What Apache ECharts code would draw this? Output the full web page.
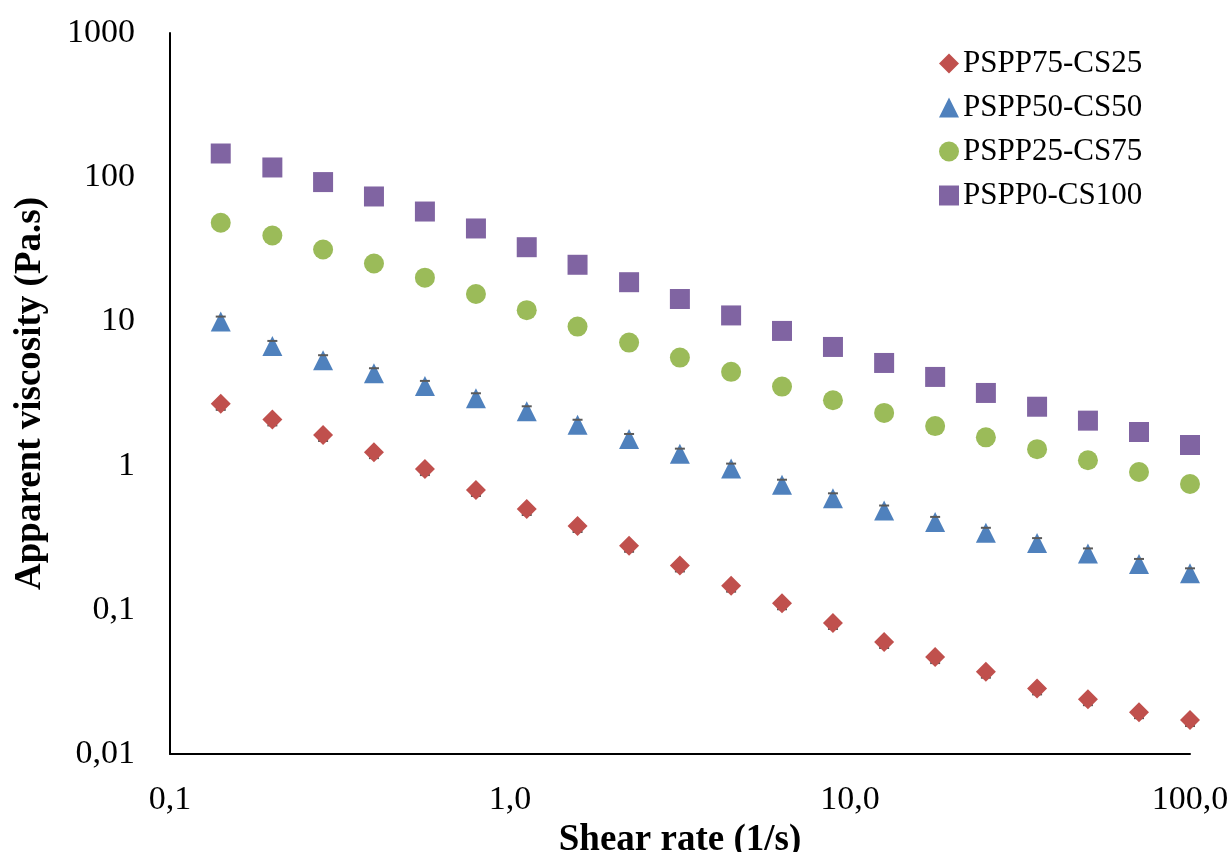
<!DOCTYPE html>
<html>
<head>
<meta charset="utf-8">
<script src="https://cdn.jsdelivr.net/npm/echarts@6/dist/echarts.min.js"></script>
<style>
  html, body { margin: 0; padding: 0; background: #fff; }
  #chart { width: 1231px; height: 852px; }
</style>
</head>
<body>
<div id="chart"></div>
<script>
// Shear rate (1/s)
const shearRate = [0.141, 0.2, 0.282, 0.398, 0.562, 0.794, 1.12, 1.58, 2.24, 3.16,
                   4.47, 6.31, 8.91, 12.6, 17.8, 25.1, 35.5, 50.1, 70.8, 100];

// Apparent viscosity (Pa.s) per blend
const pspp75cs25 = [2.68, 2.09, 1.63, 1.24, 0.946, 0.677, 0.500, 0.381, 0.278, 0.203,
                    0.147, 0.111, 0.081, 0.0598, 0.0470, 0.0372, 0.0285, 0.0240, 0.0195, 0.0172];
const pspp50cs50 = [9.97, 6.76, 5.38, 4.37, 3.57, 2.93, 2.38, 1.92, 1.53, 1.21,
                    0.953, 0.737, 0.593, 0.488, 0.407, 0.342, 0.290, 0.246, 0.208, 0.179];
const pspp25cs75 = [48.3, 39.4, 31.5, 25.2, 20.1, 15.5, 11.97, 9.20, 7.13, 5.61,
                    4.47, 3.53, 2.84, 2.32, 1.88, 1.57, 1.30, 1.09, 0.903, 0.745];
const pspp0cs100 = [146, 116.8, 92.5, 73.5, 57.8, 44.1, 32.7, 24.7, 18.7, 14.3,
                    11.0, 8.59, 6.65, 5.15, 4.12, 3.19, 2.56, 2.05, 1.71, 1.39];

const seriesNames = ['PSPP75-CS25', 'PSPP50-CS50', 'PSPP25-CS75', 'PSPP0-CS100'];

// Tick labels (decimal comma)
const xTickLabels = { '-1': '0,1', '0': '1,0', '1': '10,0', '2': '100,0' };
const yTickLabels = { '-2': '0,01', '-1': '0,1', '0': '1', '1': '10', '2': '100', '3': '1000' };

const FONT = '"Liberation Serif", "Times New Roman", serif';

function pairs(ys) {
  return shearRate.map((x, i) => [x, ys[i]]);
}
function decade(v) {
  return String(Math.round(Math.log10(v)));
}

// small error-bar caps that peek out around the markers
function caps(ys, offsetY, width, z) {
  return {
    type: 'scatter', silent: true, z: z,
    symbol: 'rect', symbolSize: [width, 2], symbolOffset: [0, offsetY],
    itemStyle: { color: '#5a5a5a', opacity: 1 },
    data: pairs(ys)
  };
}

const chart = echarts.init(document.getElementById('chart'), null, { renderer: 'canvas' });

chart.setOption({
  animation: false,
  backgroundColor: '#ffffff',
  grid: { left: 170, top: 33, right: 41, bottom: 98, containLabel: false, outerBoundsMode: 'none' },
  legend: {
    orient: 'vertical',
    left: 934,
    top: 43,
    itemWidth: 20,
    itemHeight: 20,
    itemGap: 13,
    data: seriesNames,
    textStyle: { fontFamily: FONT, fontSize: 31, color: '#000', lineHeight: 31, padding: [0, 0, 0, -1] }
  },
  xAxis: {
    type: 'log',
    logBase: 10,
    min: 0.1,
    max: 100,
    name: 'Shear rate (1/s)',
    nameLocation: 'middle',
    nameGap: 58,
    nameTextStyle: { fontFamily: FONT, fontSize: 37, fontWeight: 'bold', color: '#000' },
    axisLine: { lineStyle: { color: '#000', width: 2 } },
    axisTick: { show: false },
    splitLine: { show: false },
    axisLabel: {
      fontFamily: FONT, fontSize: 34, color: '#000', margin: 29,
      formatter: v => xTickLabels[decade(v)] || ''
    }
  },
  yAxis: {
    type: 'log',
    logBase: 10,
    min: 0.01,
    max: 1000,
    name: 'Apparent viscosity (Pa.s)',
    nameLocation: 'middle',
    nameGap: 121,
    nameTextStyle: { fontFamily: FONT, fontSize: 37, fontWeight: 'bold', color: '#000' },
    axisLine: { lineStyle: { color: '#000', width: 2 } },
    axisTick: { show: false },
    splitLine: { show: false },
    axisLabel: {
      fontFamily: FONT, fontSize: 34, color: '#000', margin: 35,
      formatter: v => yTickLabels[decade(v)] || ''
    }
  },
  series: [
    caps(pspp75cs25, 6, 10, 1),
    {
      name: seriesNames[0], type: 'scatter', symbol: 'diamond', symbolSize: 20, z: 2,
      itemStyle: { color: '#C0504D', opacity: 1 }, data: pairs(pspp75cs25)
    },
    {
      name: seriesNames[1], type: 'scatter', symbol: 'triangle', symbolSize: 20, z: 2,
      itemStyle: { color: '#4F81BD', opacity: 1 }, data: pairs(pspp50cs50)
    },
    caps(pspp50cs50, -5, 10, 3),
    {
      name: seriesNames[2], type: 'scatter', symbol: 'circle', symbolSize: 20, z: 2,
      itemStyle: { color: '#9BBB59', opacity: 1 }, data: pairs(pspp25cs75)
    },
    {
      name: seriesNames[3], type: 'scatter', symbol: 'rect', symbolSize: 20, z: 2,
      itemStyle: { color: '#8064A2', opacity: 1 }, data: pairs(pspp0cs100)
    }
  ]
});
</script>
</body>
</html>
